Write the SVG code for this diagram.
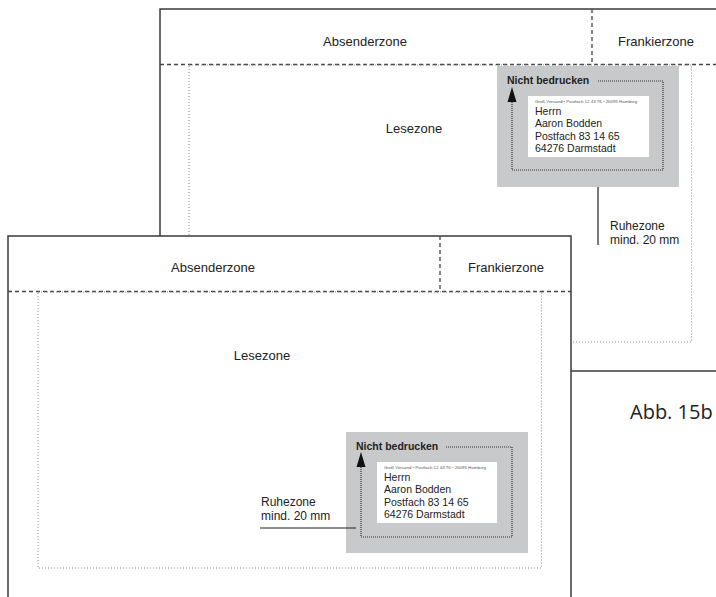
<svg xmlns="http://www.w3.org/2000/svg" width="716" height="597" viewBox="0 0 716 597">
<style>
.edge{fill:#fff;stroke:#3a3a3a;stroke-width:1.5}
.dash{fill:none;stroke:#444;stroke-width:1.3;stroke-dasharray:4 3}
.dot{fill:none;stroke:#8a8a8a;stroke-width:1;stroke-dasharray:1 2}
.loop{fill:none;stroke:#333;stroke-width:1.2;stroke-dasharray:1 1}
.gray{fill:#c8c9cb}
.white{fill:#fff}
.t{font-family:"Liberation Sans",Arial,sans-serif;fill:#222}
.zone{font-size:13px;text-anchor:middle}
.bold{font-size:10.5px;font-weight:bold}
.addr{font-size:10.5px}
.tiny{font-size:4.4px;fill:#555}
.rz{font-size:12px}
.solid{stroke:#222;stroke-width:1.2;fill:none}
</style>

<g id="back-envelope">
  <rect class="edge" x="160" y="9" width="580" height="362"/>
  <line class="dash" x1="160" y1="64.5" x2="716" y2="64.5"/>
  <line class="dash" x1="592" y1="9" x2="592" y2="64"/>
  <rect class="dot" x="189" y="65" width="502.5" height="277"/>
  <text class="t zone" x="365" y="45.5">Absenderzone</text>
  <text class="t zone" x="656" y="45.5">Frankierzone</text>
  <text class="t zone" x="414" y="133">Lesezone</text>
</g>

<g id="back-label">
  <rect class="gray" x="497" y="66" width="182" height="121"/>
  <rect class="white" x="528" y="96" width="121" height="61"/>
  <text class="t bold" x="507" y="84">Nicht bedrucken</text>
  <text class="t tiny" x="535" y="103">Groß Versand • Postfach 12 43 76 • 20095 Hamburg</text>
  <text class="t addr" x="535" y="115">Herrn</text>
  <text class="t addr" x="535" y="127.3">Aaron Bodden</text>
  <text class="t addr" x="535" y="139.6">Postfach 83 14 65</text>
  <text class="t addr" x="535" y="151.9">64276 Darmstadt</text>
  <polyline class="loop" points="598,81 663,81 663,170 512,170 512,101"/>
  <polygon points="512,87 507.5,102 516.5,102" fill="#111"/>
</g>

<g id="back-ruhezone">
  <text class="t rz" x="610" y="230">Ruhezone</text>
  <text class="t rz" x="610" y="244">mind. 20 mm</text>
</g>

<g id="front-envelope">
  <rect class="edge" x="8" y="236" width="563" height="370"/>
  <line class="dash" x1="8" y1="291.5" x2="571" y2="291.5"/>
  <line class="dash" x1="440" y1="236" x2="440" y2="291"/>
  <rect class="dot" x="38" y="292" width="503.5" height="276"/>
  <text class="t zone" x="213" y="272">Absenderzone</text>
  <text class="t zone" x="506" y="272">Frankierzone</text>
  <text class="t zone" x="262" y="360">Lesezone</text>
</g>

<g id="front-label">
  <rect class="gray" x="346" y="432" width="182" height="121"/>
  <rect class="white" x="377" y="462" width="120" height="61"/>
  <text class="t bold" x="356" y="450">Nicht bedrucken</text>
  <text class="t tiny" x="384" y="469">Groß Versand • Postfach 12 43 76 • 20095 Hamburg</text>
  <text class="t addr" x="384" y="481">Herrn</text>
  <text class="t addr" x="384" y="493.3">Aaron Bodden</text>
  <text class="t addr" x="384" y="505.6">Postfach 83 14 65</text>
  <text class="t addr" x="384" y="517.9">64276 Darmstadt</text>
  <polyline class="loop" points="446,447 512,447 512,537 361,537 361,467"/>
  <polygon points="361,452 356.5,467 365.5,467" fill="#111"/>
</g>

<g id="front-ruhezone">
  <text class="t rz" x="261" y="506">Ruhezone</text>
  <text class="t rz" x="261" y="520">mind. 20 mm</text>
</g>

<g id="connectors">
  <line class="solid" x1="598" y1="187" x2="598" y2="245"/>
  <line class="solid" x1="260" y1="528" x2="356" y2="528"/>
</g>

<text x="630" y="419" font-family="'Open Sans','Noto Sans',sans-serif" font-size="20" fill="#222">Abb. 15b</text>
</svg>
